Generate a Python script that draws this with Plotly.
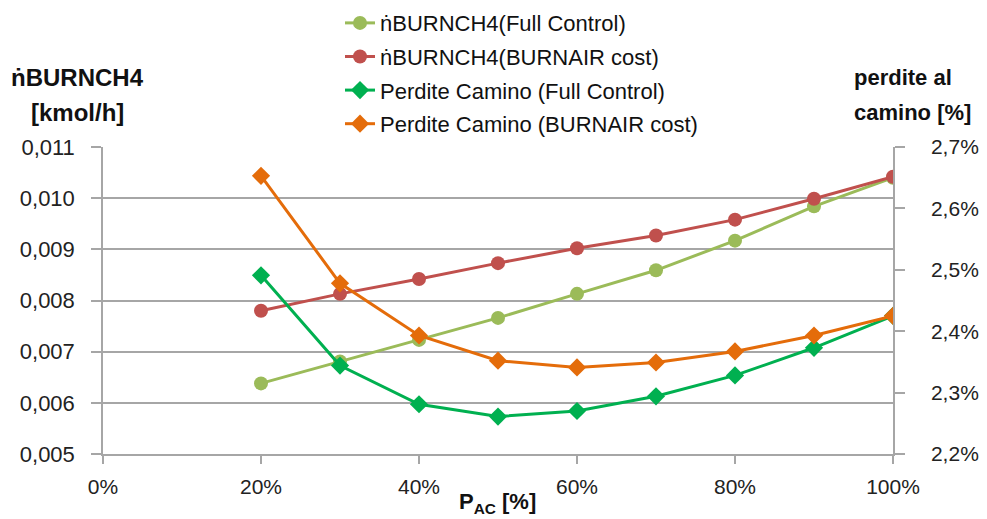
import plotly.graph_objects as go

x_pct = [0.2, 0.3, 0.4, 0.5, 0.6, 0.7, 0.8, 0.9, 1.0]

burn_full = [0.00638, 0.00681, 0.00723, 0.00766, 0.00813, 0.00859, 0.00917, 0.00984, 0.01040]
burn_cost = [0.00780, 0.00813, 0.00842, 0.00873, 0.00902, 0.00927, 0.00958, 0.00999, 0.01042]
perd_full = [0.02491, 0.02344, 0.02281, 0.02261, 0.02270, 0.02294, 0.02328, 0.02373, 0.02425]
perd_cost = [0.02653, 0.02478, 0.02393, 0.02352, 0.02341, 0.02349, 0.02367, 0.02393, 0.02425]

names = ["ṅBURNCH4(Full Control)", "ṅBURNCH4(BURNAIR cost)",
         "Perdite Camino (Full Control)", "Perdite Camino (BURNAIR cost)"]
colors = ["#9BBB59", "#C0504D", "#00B050", "#E46C0A"]

FONT = "Liberation Sans, Arial, sans-serif"
GRID = "#A6A6A6"
TXT = "#111111"

fig = go.Figure()
series = [(burn_full, "circle", "y"), (burn_cost, "circle", "y"),
          (perd_full, "diamond", "y2"), (perd_cost, "diamond", "y2")]
for i, (vals, sym, ax) in enumerate(series):
    fig.add_trace(go.Scatter(
        x=x_pct, y=vals, name=names[i], yaxis=ax, mode="lines+markers",
        line=dict(color=colors[i], width=3),
        marker=dict(symbol=sym, size=14, color=colors[i]),
        legendgroup=f"g{i}",
    ))

fig.update_layout(
    width=987, height=519,
    margin=dict(l=103, r=94, t=147, b=65, autoexpand=False),
    paper_bgcolor="white", plot_bgcolor="white",
    separators=",.",
    font=dict(family=FONT, size=21, color="#222222"),
    showlegend=True,
    legend=dict(x=0.30, y=1.472, xanchor="left", yanchor="top",
                font=dict(size=22, color=TXT),
                traceorder="grouped", tracegroupgap=2,
                bgcolor="rgba(0,0,0,0)"),
    xaxis=dict(range=[0, 1], dtick=0.2, tick0=0, tickformat=".0%",
               showgrid=False, showline=True, linecolor=GRID, linewidth=1.5,
               ticks="outside", ticklen=8, tickcolor=GRID, tickwidth=1.5,
               ticklabelstandoff=5,
               zeroline=False, tickfont=dict(size=21)),
    yaxis=dict(range=[0.005, 0.011], dtick=0.001, tick0=0.005, tickformat=".3f",
               showgrid=True, gridcolor=GRID, gridwidth=1.5,
               showline=True, linecolor=GRID, linewidth=1.5,
               ticks="outside", ticklen=10, tickcolor=GRID, tickwidth=1.5,
               ticklabelstandoff=12,
               zeroline=False, tickfont=dict(size=22)),
    yaxis2=dict(range=[0.022, 0.027], dtick=0.001, tick0=0.022, tickformat=".1%",
                overlaying="y", side="right", showgrid=False,
                showline=True, linecolor=GRID, linewidth=1.5,
                ticks="outside", ticklen=10, tickcolor=GRID, tickwidth=1.5,
                ticklabelstandoff=22,
                zeroline=False, tickfont=dict(size=21)),
)

def py(p):
    return (454 - p) / 307

def px(p):
    return (p - 103) / 790

for txt, ypix in [("<b>ṅBURNCH4</b>", 78), ("<b>[kmol/h]</b>", 113)]:
    fig.add_annotation(text=txt, xref="paper", yref="paper", x=px(77), y=py(ypix),
                       xanchor="center", yanchor="middle", showarrow=False,
                       font=dict(size=24, color=TXT))
for txt, ypix in [("<b>perdite al</b>", 78), ("<b>camino [%]</b>", 113)]:
    fig.add_annotation(text=txt, xref="paper", yref="paper", x=px(852), y=py(ypix),
                       xanchor="left", yanchor="middle", showarrow=False,
                       font=dict(size=22, color=TXT))
fig.add_annotation(text="<b>P<sub>AC</sub> [%]</b>", xref="paper", yref="paper",
                   x=px(497), y=py(503), xanchor="center", yanchor="middle",
                   showarrow=False, font=dict(size=22, color=TXT))

fig.write_html("out.html")
